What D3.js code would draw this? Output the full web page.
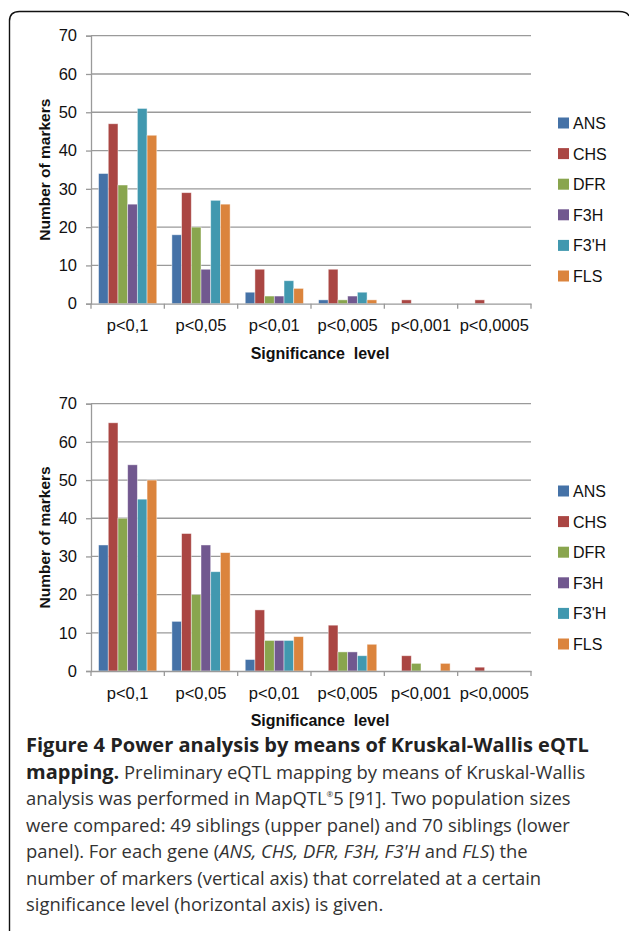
<!DOCTYPE html>
<html>
<head>
<meta charset="utf-8">
<script src="https://cdn.jsdelivr.net/npm/d3@7"></script>
<style>
  html, body { margin: 0; padding: 0; background: #fff; }
  svg { display: block; }
</style>
</head>
<body>
<script>
// ---- data ----
const categories = ["p<0,1", "p<0,05", "p<0,01", "p<0,005", "p<0,001", "p<0,0005"];
const genes = ["ANS", "CHS", "DFR", "F3H", "F3'H", "FLS"];
const geneColors = ["#4572A7", "#AA4643", "#89A54E", "#71588F", "#4198AF", "#DB843D"];
const yTicks = [0, 10, 20, 30, 40, 50, 60, 70];

// upper panel: 49 siblings (values per gene across categories)
const upperANS = [34, 18, 3, 1, 0, 0];
const upperCHS = [47, 29, 9, 9, 1, 1];
const upperDFR = [31, 20, 2, 1, 0, 0];
const upperF3H = [26, 9, 2, 2, 0, 0];
const upperF3pH = [51, 27, 6, 3, 0, 0];
const upperFLS = [44, 26, 4, 1, 0, 0];

// lower panel: 70 siblings
const lowerANS = [33, 13, 3, 0, 0, 0];
const lowerCHS = [65, 36, 16, 12, 4, 1];
const lowerDFR = [40, 20, 8, 5, 2, 0];
const lowerF3H = [54, 33, 8, 5, 0, 0];
const lowerF3pH = [45, 26, 8, 4, 0, 0];
const lowerFLS = [50, 31, 9, 7, 2, 0];

const upperSeries = [upperANS, upperCHS, upperDFR, upperF3H, upperF3pH, upperFLS];
const lowerSeries = [lowerANS, lowerCHS, lowerDFR, lowerF3H, lowerF3pH, lowerFLS];

const yTitle = "Number of markers";
const xTitle = "Significance  level";

// ---- drawing ----
const W = 629, H = 931;
const svg = d3.select("body").append("svg").attr("width", W).attr("height", H);

// frame (rounded, open at bottom)
svg.append("path")
  .attr("d", `M9.5,${H + 5} V21 Q9.5,11.5 19.5,11.5 H619 Q627,11.5 629,16`)
  .attr("fill", "none").attr("stroke", "#111").attr("stroke-width", 1.4);

const FONT = "Arial, 'Liberation Sans', Helvetica, sans-serif";

function drawPanel(series, top, bottom, legendTop) {
  const left = 91, right = 531;
  const g = svg.append("g");
  const x0 = d3.scaleBand().domain(categories).range([left, right]).paddingInner(0).paddingOuter(0);
  const x1 = d3.scaleBand().domain(genes).range([0, x0.bandwidth()]).paddingInner(0).paddingOuter(0.78);
  const y = d3.scaleLinear().domain([0, 70]).range([bottom, top]);

  // gridlines
  g.append("g").selectAll("line").data(yTicks.filter(d => d > 0)).join("line")
    .attr("x1", left).attr("x2", right)
    .attr("y1", d => y(d)).attr("y2", d => y(d))
    .attr("stroke", "#9a9a9a").attr("stroke-width", 1.3);

  // bars
  genes.forEach((gene, gi) => {
    g.append("g").selectAll("rect").data(series[gi].map((v, ci) => ({ v, c: categories[ci] })))
      .join("rect")
      .attr("x", d => x0(d.c) + x1(gene))
      .attr("y", d => y(d.v))
      .attr("width", x1.bandwidth())
      .attr("height", d => y(0) - y(d.v))
      .attr("fill", geneColors[gi])
      .attr("stroke", "rgba(255,255,255,0.55)")
      .attr("stroke-width", 0.8);
  });

  // y axis
  const yAxis = d3.axisLeft(y).tickValues(yTicks).tickSize(5).tickPadding(9);
  const ya = g.append("g").attr("transform", `translate(${left},0)`).call(yAxis);
  ya.attr("font-family", null).attr("font-size", null);
  ya.select(".domain").attr("stroke", "#9a9a9a").attr("stroke-width", 1.3);
  ya.selectAll(".tick line").attr("stroke", "#9a9a9a").attr("stroke-width", 1.3);
  ya.selectAll(".tick text").attr("font-family", FONT).attr("font-size", 16.5).attr("fill", "#111");

  // x axis
  const xAxis = d3.axisBottom(x0).tickSize(0).tickPadding(16);
  const xa = g.append("g").attr("transform", `translate(0,${bottom})`).call(xAxis);
  xa.attr("font-family", null).attr("font-size", null);
  xa.select(".domain").attr("stroke", "#9a9a9a").attr("stroke-width", 1.3);
  xa.selectAll(".tick text").attr("font-family", FONT).attr("font-size", 16.5).attr("fill", "#111");
  // category boundary ticks
  const bounds = categories.map(c => x0(c)).concat([right]);
  g.append("g").selectAll("line").data(bounds).join("line")
    .attr("x1", d => d).attr("x2", d => d)
    .attr("y1", bottom).attr("y2", bottom + 5)
    .attr("stroke", "#9a9a9a").attr("stroke-width", 1.3);

  // axis titles
  g.append("text")
    .attr("x", 320).attr("y", bottom + 55)
    .attr("text-anchor", "middle")
    .attr("font-family", FONT).attr("font-weight", "bold").attr("font-size", 16)
    .attr("fill", "#111").style("white-space", "pre")
    .text(xTitle);
  g.append("text")
    .attr("transform", `translate(50,${(top + bottom) / 2}) rotate(-90)`)
    .attr("text-anchor", "middle")
    .attr("font-family", FONT).attr("font-weight", "bold").attr("font-size", 15.5)
    .attr("fill", "#111")
    .text(yTitle);

  // legend
  const lg = g.append("g").attr("transform", `translate(558,${legendTop})`);
  const items = lg.selectAll("g").data(genes).join("g")
    .attr("transform", (d, i) => `translate(0,${i * 30.6})`);
  items.append("rect").attr("x", 0).attr("y", -5.5).attr("width", 11).attr("height", 11)
    .attr("fill", (d, i) => geneColors[i]);
  items.append("text").attr("x", 15).attr("y", 6)
    .attr("font-family", FONT).attr("font-size", 16).attr("fill", "#111")
    .text(d => d);
}

drawPanel(upperSeries, 35.7, 303.7, 123);
drawPanel(lowerSeries, 403.7, 671, 491);

// ---- caption ----
const CAP = "'Open Sans', 'Noto Sans', sans-serif";
const captionLines = [
  [{ t: "Figure 4 Power analysis by means of Kruskal-Wallis eQTL", b: true }],
  [{ t: "mapping.", b: true }, { t: " Preliminary eQTL mapping by means of Kruskal-Wallis" }],
  [{ t: "analysis was performed in MapQTL" }, { t: "®", sup: true }, { t: "5 [91]. Two population sizes", after: true }],
  [{ t: "were compared: 49 siblings (upper panel) and 70 siblings (lower" }],
  [{ t: "panel). For each gene (" }, { t: "ANS, CHS, DFR, F3H, F3'H", i: true }, { t: " and " }, { t: "FLS", i: true }, { t: ") the" }],
  [{ t: "number of markers (vertical axis) that correlated at a certain" }],
  [{ t: "significance level (horizontal axis) is given." }]
];
const cap = svg.append("g");
captionLines.forEach((line, li) => {
  const txt = cap.append("text")
    .attr("x", 26).attr("y", 752 + li * 26.5)
    .attr("font-family", CAP).attr("font-size", 18.4).attr("fill", "#333");
  line.forEach(s => {
    const ts = txt.append("tspan").text(s.t);
    if (s.b) ts.attr("font-weight", "bold").attr("fill", "#222").attr("font-size", 20);
    if (s.i) ts.attr("font-style", "italic");
    if (s.sup) ts.attr("font-size", 8).attr("dy", -8);
    if (s.after) ts.attr("dy", 8);
  });
});
</script>
</body>
</html>
